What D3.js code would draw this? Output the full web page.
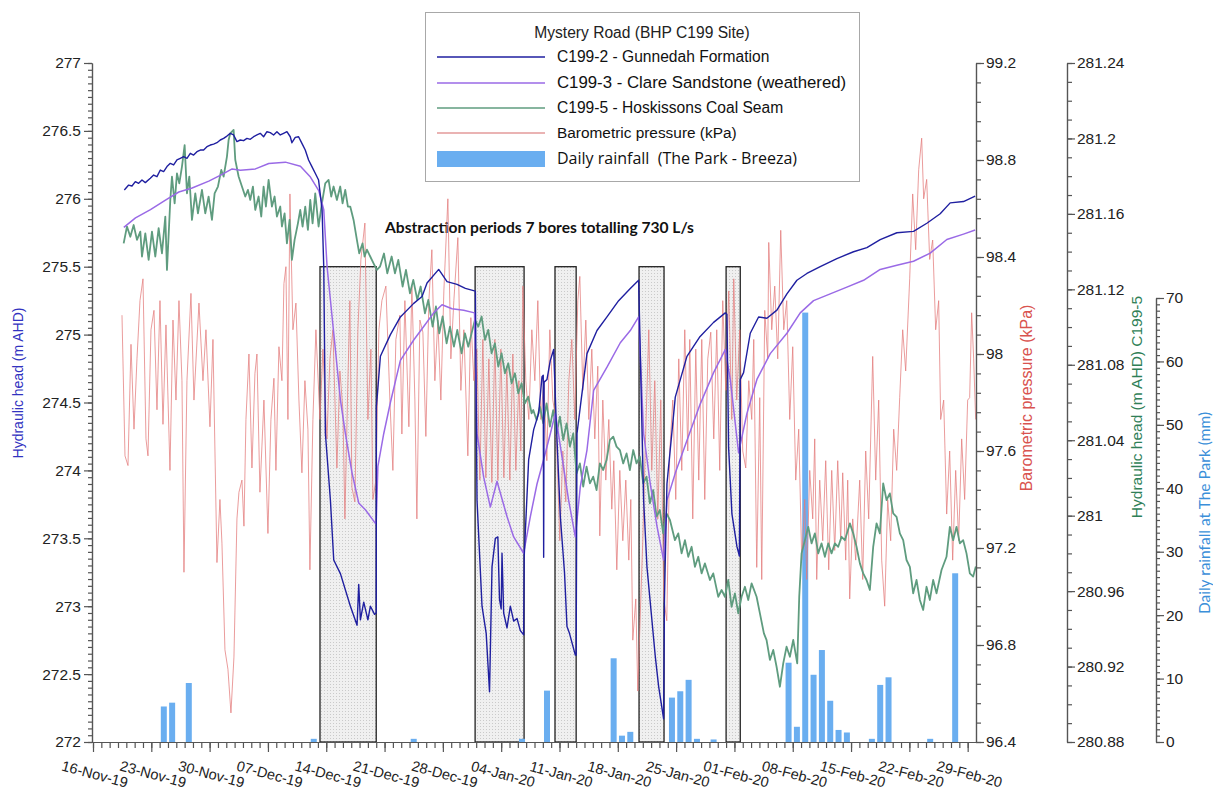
<!DOCTYPE html>
<html>
<head>
<meta charset="utf-8">
<script src="https://cdn.jsdelivr.net/npm/d3@7"></script>
<style>
  body { margin: 0; background: #fff; }
  text { font-family: "Liberation Sans", Arial, sans-serif; }
</style>
</head>
<body>
<svg id="chart" width="1213" height="801"></svg>
<script>
// all series keyed by days since 16-Nov-2019 (00:00)
var startDate = Date.UTC(2019, 10, 16);

// C199-2 Gunnedah Formation (m AHD), [day, head]
var c1992 = [[3.76,276.065],[4.28,276.101],[4.68,276.094],[5.08,276.126],[5.48,276.114],[5.88,276.138],[6.28,276.119],[6.88,276.151],[7.28,276.175],[7.68,276.163],[8.08,276.212],[8.48,276.2],[8.88,276.237],[9.28,276.261],[9.68,276.249],[10.08,276.286],[10.48,276.298],[10.88,276.31],[11.28,276.298],[11.68,276.335],[12.08,276.322],[12.48,276.347],[12.88,276.359],[13.28,276.359],[13.68,276.384],[14.08,276.396],[14.48,276.403],[14.88,276.413],[15.28,276.433],[15.68,276.445],[16.08,276.462],[16.48,276.482],[16.88,276.47],[17.28,276.421],[17.68,276.433],[18.08,276.428],[18.48,276.445],[18.88,276.438],[19.28,276.457],[19.68,276.47],[20.08,276.482],[20.48,276.457],[20.88,276.494],[21.28,276.487],[21.68,276.47],[22.08,276.494],[22.48,276.47],[22.88,276.482],[23.28,276.494],[23.68,276.457],[23.88,276.413],[24.28,276.452],[24.68,276.457],[25.08,276.408],[25.48,276.359],[25.88,276.286],[26.28,276.237],[26.68,276.188],[27.08,276.138],[27.5,275.92],[27.7,275.5],[27.9,274.27],[28.5,273.78],[28.9,273.34],[29.7,273.24],[30.9,273.0],[31.7,272.86],[31.9,273.16],[32.1,272.9],[32.5,273.03],[33.0,272.9],[33.3,273.0],[33.8,272.94],[34.0,272.95],[34.02,274.47],[34.5,274.84],[35.7,275.0],[36.9,275.13],[38.5,275.23],[39.5,275.28],[40.1,275.38],[41.5,275.48],[42.5,275.39],[43.7,275.37],[44.7,275.34],[45.9,275.32],[46.1,273.78],[46.7,273.0],[47.2,272.8],[47.6,272.37],[47.9,273.29],[48.3,273.5],[48.6,273.51],[48.8,273.05],[49.0,272.98],[49.1,273.39],[49.3,272.95],[49.7,272.84],[50.1,273.0],[50.5,272.89],[50.9,272.91],[51.3,272.82],[51.7,272.79],[51.76,273.36],[52.3,274.08],[52.9,274.3],[53.5,274.42],[53.9,274.69],[54.05,274.7],[54.1,273.36],[54.15,274.65],[54.5,274.67],[54.9,274.81],[55.3,274.89],[55.6,274.37],[56.1,273.66],[56.6,273.25],[56.9,272.85],[57.2,272.8],[57.9,272.64],[58.0,272.64],[58.1,274.27],[58.5,274.47],[59.3,274.86],[60.5,275.03],[61.7,275.13],[63.1,275.25],[64.5,275.34],[65.5,275.4],[66.1,273.78],[66.5,273.29],[67.5,272.63],[67.9,272.41],[68.5,272.17],[68.6,273.05],[68.9,273.9],[69.9,274.54],[71.3,274.84],[72.8,274.98],[74.5,275.09],[75.9,275.16],[76.1,275.15],[76.3,274.17],[76.7,273.68],[77.3,273.44],[77.6,273.37],[77.7,274.67],[78.1,274.72],[78.9,275.01],[79.9,275.13],[80.9,275.12],[82.1,275.18],[83.3,275.3],[84.5,275.4],[85.7,275.45],[87.3,275.5],[89.3,275.56],[91.3,275.61],[92.9,275.64],[94.5,275.7],[96.5,275.75],[98.5,275.76],[100.1,275.82],[101.7,275.89],[102.9,275.97],[104.5,275.98],[105.9,276.02]];

// C199-3 Clare Sandstone (weathered) (m AHD)
var c1993 = [[3.7,275.79],[5.1,275.86],[6.9,275.92],[8.7,275.99],[10.3,276.05],[11.9,276.08],[13.9,276.13],[15.5,276.18],[16.7,276.22],[17.7,276.21],[19.5,276.22],[21.1,276.26],[23.1,276.27],[24.9,276.24],[26.1,276.16],[27.1,276.06],[27.7,275.92],[28.1,275.5],[28.9,275.01],[29.7,274.52],[30.3,274.27],[31.1,273.98],[31.9,273.76],[32.7,273.71],[33.9,273.61],[34.0,273.62],[34.2,274.03],[34.9,274.27],[35.7,274.5],[36.9,274.81],[38.5,274.96],[39.7,275.06],[40.9,275.16],[41.9,275.22],[43.1,275.19],[44.5,275.18],[45.8,275.16],[46.1,274.27],[46.9,273.95],[47.7,273.73],[48.5,273.92],[49.7,273.66],[50.5,273.51],[51.7,273.39],[52.5,273.66],[53.3,273.9],[54.1,274.08],[54.9,274.27],[55.5,274.42],[56.3,274.1],[57.1,273.78],[57.9,273.51],[58.5,273.88],[59.3,274.15],[60.1,274.59],[61.7,274.76],[63.3,274.94],[64.5,275.03],[65.5,275.13],[66.1,274.27],[66.9,273.9],[67.7,273.59],[68.5,273.34],[68.9,273.78],[69.9,273.98],[71.3,274.22],[72.9,274.49],[74.5,274.72],[75.9,274.89],[76.5,274.67],[77.5,274.13],[78.5,274.42],[79.7,274.67],[81.3,274.86],[83.3,275.01],[84.9,275.16],[86.5,275.25],[88.5,275.3],[90.5,275.35],[92.5,275.4],[94.5,275.48],[96.5,275.51],[98.5,275.54],[100.5,275.6],[102.5,275.7],[104.5,275.74],[105.9,275.77]];

// C199-5 Hoskissons Coal Seam (m AHD)
var c1995 = [[3.68,281.1444],[4.08,281.1533],[4.48,281.1479],[4.88,281.1541],[5.28,281.1462],[5.68,281.1506],[5.88,281.1374],[6.28,281.1497],[6.68,281.1356],[7.08,281.1506],[7.48,281.1374],[7.88,281.1524],[8.28,281.1391],[8.68,281.1586],[8.88,281.1303],[9.28,281.1674],[9.48,281.1798],[9.8,281.1656],[10.08,281.1815],[10.36,281.1762],[10.68,281.1851],[11.0,281.1965],[11.28,281.1709],[11.56,281.1798],[11.88,281.1568],[12.28,281.1709],[12.6,281.1603],[13.08,281.1727],[13.48,281.1603],[13.88,281.1692],[14.28,281.1568],[14.6,281.1709],[15.0,281.1745],[15.4,281.1833],[15.68,281.1798],[16.08,281.1904],[16.28,281.1992],[16.48,281.2027],[16.88,281.2045],[17.08,281.1886],[17.48,281.1798],[17.88,281.1745],[18.28,281.1692],[18.6,281.1727],[18.88,281.1674],[19.2,281.1745],[19.48,281.1621],[19.88,281.1692],[20.2,281.1586],[20.48,281.1745],[20.76,281.1639],[21.08,281.178],[21.48,281.1639],[21.8,281.1692],[22.08,281.1586],[22.48,281.1639],[22.68,281.1533],[23.0,281.1603],[23.28,281.1444],[23.6,281.1568],[23.88,281.1356],[24.2,281.1462],[24.6,281.155],[24.88,281.1621],[25.16,281.1533],[25.48,281.1639],[25.8,281.1515],[26.08,281.1674],[26.36,281.155],[26.68,281.1709],[27.08,281.1533],[27.48,281.1656],[27.88,281.1762],[28.28,281.178],[28.6,281.1692],[28.88,281.1745],[29.28,281.1674],[29.68,281.1745],[29.96,281.1656],[30.28,281.1727],[30.6,281.1639],[30.88,281.1639],[31.28,281.1568],[31.68,281.1462],[31.96,281.1391],[32.36,281.1444],[32.6,281.1374],[32.88,281.141],[33.28,281.1374],[33.68,281.1338],[34.08,281.1303],[34.45,281.132],[34.93,281.139],[35.33,281.1285],[35.85,281.1374],[36.25,281.1285],[36.65,281.1356],[37.17,281.1215],[37.57,281.1303],[38.05,281.1179],[38.45,281.125],[38.93,281.1144],[39.33,281.1215],[39.85,281.1073],[40.25,281.1144],[40.77,281.1002],[41.17,281.1109],[41.57,281.0967],[41.97,281.1056],[42.45,281.0914],[42.85,281.1002],[43.33,281.0896],[43.73,281.0985],[44.25,281.0861],[44.65,281.0967],[45.05,281.0896],[45.45,281.0967],[45.85,281.1038],[46.25,281.1002],[46.65,281.1056],[47.05,281.0932],[47.45,281.0985],[47.85,281.0861],[48.25,281.0914],[48.65,281.079],[49.05,281.0861],[49.45,281.0755],[49.85,281.0808],[50.25,281.0702],[50.65,281.0755],[51.05,281.0649],[51.45,281.0702],[51.85,281.0596],[52.25,281.0631],[52.65,281.0543],[52.85,281.056],[53.25,281.0507],[53.65,281.0578],[54.05,281.0489],[54.45,281.0595],[54.85,281.0472],[55.25,281.056],[55.65,281.0436],[56.05,281.0525],[56.45,281.0401],[56.85,281.0489],[57.25,281.0366],[57.65,281.0436],[58.05,281.0224],[58.45,281.0277],[58.85,281.0154],[59.25,281.026],[59.65,281.0171],[60.05,281.0207],[60.45,281.0136],[60.85,281.0277],[61.25,281.0242],[61.65,281.0295],[62.05,281.0401],[62.45,281.0419],[62.85,281.0366],[63.25,281.0348],[63.65,281.0277],[64.05,281.033],[64.45,281.0242],[64.85,281.0348],[65.25,281.0277],[65.65,281.0313],[66.05,281.0171],[66.45,281.0207],[66.85,281.0065],[67.25,281.0136],[67.65,280.9995],[68.05,281.003],[68.45,280.9906],[68.85,281.0012],[69.26,280.9977],[69.86,280.987],[70.26,280.9906],[70.66,280.98],[71.06,280.987],[71.46,280.9782],[71.86,280.9835],[72.26,280.9729],[72.66,280.9782],[73.06,280.9694],[73.46,280.9747],[74.06,280.9659],[74.46,280.9694],[75.06,280.957],[75.46,280.9606],[75.86,280.957],[76.26,280.9659],[76.66,280.9517],[77.06,280.9588],[77.46,280.9482],[77.86,280.957],[78.26,280.9623],[78.66,280.9553],[79.06,280.9641],[79.66,280.957],[80.06,280.9482],[80.54,280.9376],[80.86,280.934],[81.26,280.9235],[81.66,280.9288],[82.06,280.9199],[82.46,280.9093],[82.86,280.9217],[83.26,280.9305],[83.66,280.9252],[84.06,280.9341],[84.54,280.9217],[84.78,280.957],[85.06,280.98],[85.46,280.987],[85.86,280.9941],[86.26,280.9853],[86.66,280.9906],[87.06,280.98],[87.46,280.9853],[87.86,280.9782],[88.26,280.9853],[88.66,280.98],[89.06,280.9853],[89.46,280.9835],[89.86,280.9888],[90.26,280.987],[90.86,280.9959],[91.26,280.9906],[91.66,280.9835],[92.06,280.9747],[92.46,280.9694],[92.86,280.9659],[93.26,280.9606],[93.66,280.9835],[94.06,280.9959],[94.46,280.9906],[94.86,281.0171],[95.26,281.0083],[95.66,281.0118],[96.06,281.0012],[96.46,280.9994],[96.86,280.9906],[97.26,280.987],[97.66,280.9765],[98.06,280.9729],[98.46,280.9588],[98.86,280.9659],[99.26,280.9553],[99.66,280.95],[100.06,280.9623],[100.46,280.9553],[100.86,280.9659],[101.26,280.9588],[101.86,280.9712],[102.46,280.9782],[102.86,280.9941],[103.26,280.987],[103.66,280.9941],[104.06,280.9853],[104.46,280.987],[104.86,280.98],[105.26,280.9694],[105.66,280.9677],[105.98,280.973]];

// barometric pressure (kPa)
var baro = [[3.48,98.16],[3.84,97.58],[4.2,97.54],[4.56,98.04],[4.92,97.69],[5.28,97.98],[5.64,98.22],[6.0,98.31],[6.36,97.65],[6.6,97.58],[6.96,98.1],[7.32,98.18],[7.68,97.77],[8.04,98.22],[8.4,97.71],[8.76,98.12],[9.24,97.52],[9.6,98.14],[9.96,97.81],[10.32,98.22],[10.68,97.89],[10.92,97.1],[11.28,97.89],[11.76,98.25],[12.12,97.81],[12.72,98.21],[13.2,97.89],[13.56,98.1],[14.04,97.7],[14.4,98.06],[14.88,97.14],[15.24,97.4],[15.48,97.22],[15.84,96.78],[16.2,96.7],[16.56,96.52],[16.92,96.75],[17.28,97.32],[17.52,97.43],[17.88,97.48],[18.12,97.29],[18.36,97.73],[18.72,98.0],[19.08,97.53],[19.44,97.92],[19.68,98.0],[20.04,97.43],[20.52,97.81],[21.0,97.26],[21.36,97.73],[21.72,97.9],[21.96,97.52],[22.32,98.03],[22.68,97.89],[22.92,98.29],[23.16,98.36],[23.4,97.73],[23.64,98.66],[24.0,98.1],[24.36,98.21],[24.72,97.81],[25.08,97.51],[25.44,97.89],[25.8,97.69],[26.04,97.11],[26.4,97.73],[26.76,98.1],[27.24,97.73],[27.6,98.02],[28.08,97.65],[28.44,97.98],[28.8,98.1],[29.28,97.53],[29.64,97.93],[30.0,97.77],[30.24,97.32],[30.6,97.89],[30.84,98.22],[31.08,97.45],[31.44,97.39],[31.8,98.1],[32.16,98.39],[32.64,98.54],[33.0,97.73],[33.36,98.02],[33.6,97.4],[33.96,97.48],[34.32,98.1],[34.68,98.22],[35.16,98.28],[35.64,97.81],[36.0,97.52],[36.36,98.06],[36.84,98.16],[37.08,97.67],[37.44,98.22],[37.92,97.7],[38.28,98.28],[38.64,97.81],[38.88,97.32],[39.24,98.14],[39.6,98.09],[39.96,97.66],[40.32,98.22],[40.68,98.43],[41.04,97.89],[41.4,98.14],[41.76,97.81],[42.12,98.26],[42.6,98.64],[42.96,97.98],[43.32,98.22],[43.8,98.48],[44.16,97.85],[44.52,98.1],[45.0,97.58],[45.36,98.15],[45.72,97.89],[46.08,98.02],[46.44,97.48],[46.8,98.06],[47.16,97.49],[47.52,97.98],[47.88,97.47],[48.24,98.06],[48.6,97.48],[48.96,98.02],[49.32,97.49],[49.68,97.95],[50.04,97.48],[50.4,98.0],[50.76,97.52],[51.12,97.89],[51.36,97.6],[51.6,98.28],[51.96,97.89],[52.32,97.73],[52.68,98.1],[53.04,97.89],[53.4,98.22],[53.76,97.73],[54.12,97.89],[54.48,97.56],[54.84,98.1],[55.2,97.81],[55.56,97.73],[55.8,97.48],[56.04,97.23],[56.4,97.6],[56.76,97.39],[57.12,97.89],[57.48,98.06],[57.84,97.73],[58.2,98.22],[58.44,98.32],[58.8,97.85],[59.16,98.14],[59.52,97.73],[59.88,98.02],[60.24,97.65],[60.6,97.95],[60.84,97.25],[61.2,97.81],[61.56,97.48],[61.92,97.73],[62.28,97.36],[62.52,97.56],[62.88,97.11],[63.24,97.52],[63.6,97.23],[63.96,97.48],[64.32,97.15],[64.56,97.4],[64.8,96.82],[65.16,96.99],[65.4,96.61],[65.76,96.99],[66.0,97.23],[66.36,97.69],[66.72,98.1],[67.08,97.52],[67.44,97.89],[67.8,97.32],[68.16,97.81],[68.52,96.99],[68.88,96.9],[69.24,97.6],[69.6,97.81],[69.96,97.4],[70.32,97.98],[70.68,97.52],[71.04,98.1],[71.4,97.6],[71.64,98.06],[72.0,97.32],[72.36,98.02],[72.72,97.48],[73.08,98.06],[73.44,97.4],[73.8,97.98],[74.16,98.09],[74.52,97.65],[74.88,98.1],[75.24,97.52],[75.6,98.22],[75.96,97.85],[76.32,98.26],[76.68,97.73],[76.92,98.31],[77.28,97.81],[77.64,98.1],[78.0,97.6],[78.36,97.53],[78.72,97.89],[79.08,97.73],[79.32,98.06],[79.68,97.12],[80.04,97.82],[80.28,97.07],[80.64,98.18],[81.0,97.98],[81.12,98.46],[81.48,98.1],[81.84,98.28],[82.2,97.98],[82.56,98.51],[82.92,98.1],[83.28,98.22],[83.64,97.73],[84.0,98.03],[84.36,97.48],[84.72,97.69],[85.08,97.15],[85.44,97.4],[85.68,97.07],[86.04,97.52],[86.4,97.32],[86.64,97.65],[86.88,97.07],[87.24,97.48],[87.6,97.23],[87.96,97.56],[88.32,97.11],[88.68,97.52],[89.04,97.19],[89.4,97.56],[89.76,97.23],[90.0,97.51],[90.36,97.15],[90.6,97.48],[90.84,96.99],[91.2,97.32],[91.56,97.15],[92.04,97.48],[92.4,97.07],[92.76,97.6],[93.12,97.32],[93.6,97.99],[93.96,97.48],[94.32,97.81],[94.68,97.15],[95.04,96.96],[95.4,97.4],[95.76,97.23],[96.12,97.69],[96.48,97.52],[96.84,97.82],[97.2,98.1],[97.56,97.93],[98.04,98.31],[98.4,98.66],[98.76,98.43],[99.12,98.76],[99.48,98.89],[99.72,98.64],[100.08,98.72],[100.44,98.39],[100.8,98.47],[101.16,98.1],[101.52,98.22],[101.76,97.73],[102.12,97.81],[102.48,97.34],[102.84,97.6],[103.2,97.15],[103.56,97.52],[103.92,97.23],[104.28,97.65],[104.64,97.4],[105.0,97.81],[105.24,97.82],[105.48,98.17],[105.72,97.98],[105.96,97.73]];

// daily rainfall at The Park - Breeza (mm)
var rainDays = [8, 9, 11, 26, 38, 51, 54, 62, 63, 64, 69, 70, 71, 72, 74, 83, 84, 85, 86, 87, 88, 89, 90, 93, 94, 95, 100, 103];
var rainMm   = [5.6, 6.2, 9.3, 0.5, 0.5, 0.5, 8.1, 13.2, 1.0, 1.6, 7.0, 8.0, 9.8, 0.5, 0.4, 12.5, 2.4, 67.7, 10.6, 14.5, 6.5, 1.9, 1.5, 0.5, 9.0, 10.2, 0.5, 26.6];

// abstraction periods [start day, end day]
var pumping = [[27.25, 34.0], [45.87, 51.75], [55.46, 58.0], [65.55, 68.55], [76.0, 77.7]];

var headTicks = d3.range(272, 277.001, 0.5);
var baroTicks = d3.range(96.4, 99.201, 0.4);
var c5Ticks = d3.range(280.88, 281.2401, 0.04);
var rainTicks = d3.range(0, 71, 10);

var legendItems = [
  { label: "C199-2 - Gunnedah Formation", color: "#1f1fa0", kind: "line", size: "15.6px" },
  { label: "C199-3 - Clare Sandstone (weathered)", color: "#9a6ae6", kind: "line", size: "16.8px" },
  { label: "C199-5 - Hoskissons Coal Seam", color: "#5f9c7f", kind: "line", size: "15.6px" },
  { label: "Barometric pressure (kPa)", color: "#e39a9a", kind: "line", size: "15.4px" },
  { label: "Daily rainfall  (The Park - Breeza)", color: "#6aaef0", kind: "bar", size: "16px" }
];

var svg = d3.select("#chart");
var toDate = function (d) { return new Date(startDate + d * 864e5); };

var x = d3.scaleUtc().domain([toDate(0), toDate(106)]).range([93, 976]);
var yHead = d3.scaleLinear().domain([272, 277]).range([742, 63]);
var yBaro = d3.scaleLinear().domain([96.4, 99.2]).range([742, 63]);
var yC5 = d3.scaleLinear().domain([280.88, 281.24]).range([742, 63]);
var yRain = d3.scaleLinear().domain([0, 70]).range([742, 298]);

var fmt = function (d) { return String(+d.toFixed(2)); };

// stipple fill for abstraction periods
var pat = svg.append("defs").append("pattern")
  .attr("id", "dots").attr("width", 3).attr("height", 3)
  .attr("patternUnits", "userSpaceOnUse");
pat.append("rect").attr("width", 3).attr("height", 3).attr("fill", "#f0f0f0");
pat.append("rect").attr("width", 1).attr("height", 1).attr("fill", "#cacaca");

svg.selectAll("rect.pump")
  .data(pumping)
  .enter()
  .append("rect")
  .attr("class", "pump")
  .attr("x", (d) => x(toDate(d[0])))
  .attr("width", (d) => x(toDate(d[1])) - x(toDate(d[0])))
  .attr("y", yHead(275.5))
  .attr("height", yHead(272) - yHead(275.5))
  .attr("fill", "url(#dots)")
  .attr("stroke", "#222")
  .attr("stroke-width", 1.3);

svg.append("text")
  .attr("x", 385).attr("y", 233)
  .style("font-family", "Lato, sans-serif")
  .style("font-weight", "bold")
  .style("font-size", "15.6px")
  .attr("fill", "#111")
  .text("Abstraction periods 7 bores totalling 730 L/s");

// rainfall bars
svg.selectAll("rect.rain")
  .data(rainDays)
  .enter()
  .append("rect")
  .attr("class", "rain")
  .attr("x", (d) => x(toDate(d + 0.5)) - 3)
  .attr("width", 6)
  .attr("y", (d, i) => yRain(rainMm[i]))
  .attr("height", (d, i) => yRain(0) - yRain(rainMm[i]))
  .attr("fill", "#6aaef0");

function drawLine(data, y, color, width, opacity) {
  svg.append("path")
    .datum(data)
    .attr("fill", "none")
    .attr("stroke", color)
    .attr("stroke-width", width)
    .attr("stroke-opacity", opacity)
    .attr("stroke-linejoin", "round")
    .attr("d", d3.line().x((d) => x(toDate(d[0]))).y((d) => y(d[1])));
}

drawLine(baro, yBaro, "#e37b7b", 1, 0.75);
drawLine(c1995, yC5, "#5f9c7f", 1.8, 1);
drawLine(c1993, yHead, "#9a6ae6", 1.5, 1);
drawLine(c1992, yHead, "#1f1fa0", 1.4, 1);

// axes
function styleAxis(g) {
  g.selectAll("path, line").attr("stroke", "#555").attr("stroke-width", 1.2);
  g.selectAll("text").attr("fill", "#222").style("font-size", "15.5px")
    .style("font-family", "'Liberation Sans', Arial, sans-serif");
}

// left hydraulic head axis
svg.append("g").attr("transform", "translate(92,0)")
  .call(d3.axisLeft(yHead).tickValues(d3.range(272, 277.001, 0.05)).tickSize(4).tickFormat("").tickSizeOuter(0))
  .call(styleAxis);
svg.append("g").attr("transform", "translate(92,0)")
  .call(d3.axisLeft(yHead).tickValues(headTicks).tickSize(8).tickPadding(3).tickFormat(fmt).tickSizeOuter(0))
  .call(styleAxis);

// barometric axis
svg.append("g").attr("transform", "translate(976,0)")
  .call(d3.axisRight(yBaro).tickValues(d3.range(96.4, 99.201, 0.08)).tickSize(5).tickFormat("").tickSizeOuter(0))
  .call(styleAxis);
svg.append("g").attr("transform", "translate(976,0)")
  .call(d3.axisRight(yBaro).tickValues(baroTicks).tickSize(8).tickPadding(2).tickFormat(fmt).tickSizeOuter(0))
  .call(styleAxis);

// C199-5 axis
svg.append("g").attr("transform", "translate(1067,0)")
  .call(d3.axisRight(yC5).tickValues(d3.range(280.88, 281.2401, 0.01)).tickSize(5).tickFormat("").tickSizeOuter(0))
  .call(styleAxis);
svg.append("g").attr("transform", "translate(1067,0)")
  .call(d3.axisRight(yC5).tickValues(c5Ticks).tickSize(8).tickPadding(2).tickFormat(fmt).tickSizeOuter(0))
  .call(styleAxis);

// rainfall axis
svg.append("g").attr("transform", "translate(1156,0)")
  .call(d3.axisRight(yRain).tickValues(d3.range(0, 70.1, 1)).tickSize(4).tickFormat("").tickSizeOuter(0))
  .call(styleAxis);
svg.append("g").attr("transform", "translate(1156,0)")
  .call(d3.axisRight(yRain).tickValues(rainTicks).tickSize(8).tickPadding(2).tickFormat(fmt).tickSizeOuter(0))
  .call(styleAxis);

// time axis
var dayTicks = d3.range(0, 106).map(toDate);
var weekTicks = d3.range(0, 106, 7).map(toDate);
var xg = svg.append("g").attr("transform", "translate(0,742)");
xg.call(d3.axisBottom(x).tickValues(dayTicks).tickSize(6).tickFormat("").tickSizeOuter(0)).call(styleAxis);
xg.select(".domain").attr("d", "M92,0.5H976");
var xg2 = svg.append("g").attr("transform", "translate(0,742)")
  .call(d3.axisBottom(x).tickValues(weekTicks).tickSize(10).tickFormat(d3.utcFormat("%d-%b-%y")).tickSizeOuter(0))
  .call(styleAxis);
xg2.select(".domain").remove();
xg2.selectAll("text")
  .style("font-size", "14.5px")
  .attr("y", 0).attr("dy", 0)
  .attr("text-anchor", "middle")
  .attr("transform", "translate(0,37) rotate(15)");

// axis titles
function axisTitle(tx, ty, label, color, font, size) {
  svg.append("text")
    .attr("transform", "translate(" + tx + "," + ty + ") rotate(-90)")
    .attr("text-anchor", "middle")
    .attr("fill", color)
    .style("font-family", font)
    .style("font-size", size)
    .text(label);
}
axisTitle(23, 383, "Hydraulic head (m AHD)", "#3232c0", "'Liberation Sans', Arial, sans-serif", "14px");
axisTitle(1032, 398, "Barometric pressure (kPa)", "#d9534f", "'Liberation Sans', Arial, sans-serif", "16px");
axisTitle(1142, 407, "Hydraulic head (m AHD) C199-5", "#2f7f57", "'Liberation Sans', Arial, sans-serif", "15.5px");
axisTitle(1210, 513, "Daily rainfall at The Park (mm)", "#3b8fd9", "Lato, sans-serif", "15.5px");

// legend
var lg = svg.append("g");
lg.append("rect").attr("x", 425.5).attr("y", 12.5).attr("width", 434).attr("height", 169)
  .attr("fill", "#fff").attr("stroke", "#a8a8a8");
lg.append("text").attr("x", 642).attr("y", 38).attr("text-anchor", "middle")
  .style("font-size", "15.6px").attr("fill", "#222").text("Mystery Road (BHP C199 Site)");
var rowY = [57, 83, 108, 133, 159];
legendItems.forEach(function (item, i) {
  if (item.kind === "line") {
    lg.append("line").attr("x1", 437).attr("x2", 545).attr("y1", rowY[i]).attr("y2", rowY[i])
      .attr("stroke", item.color).attr("stroke-width", 1.6);
  } else {
    lg.append("rect").attr("x", 437).attr("y", rowY[i] - 8).attr("width", 108).attr("height", 16)
      .attr("fill", item.color);
  }
  lg.append("text").attr("x", 557).attr("y", rowY[i] + 5)
    .style("font-size", item.size)
    .style("white-space", "pre")
    .style("font-family", i === 4 ? "'Open Sans', sans-serif" : "'Liberation Sans', Arial, sans-serif")
    .attr("fill", "#111").text(item.label);
});
</script>
</body>
</html>
